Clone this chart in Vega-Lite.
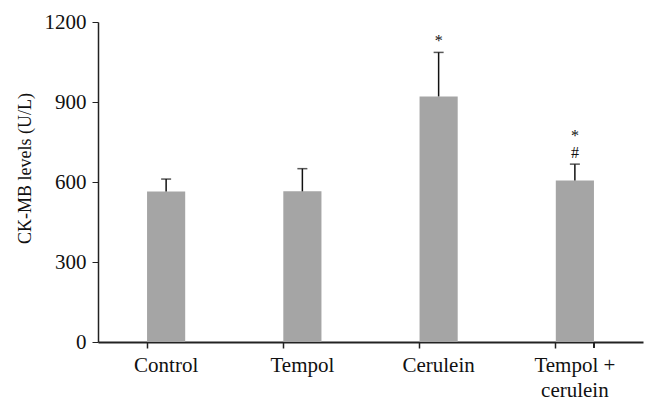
{
  "$schema": "https://vega.github.io/schema/vega-lite/v6.json",
  "autosize": "none",
  "width": 545,
  "height": 320,
  "padding": {"left": 98, "top": 22, "right": 15, "bottom": 66},
  "background": "white",
  "config": {"view": {"stroke": null}, "font": "Liberation Serif"},
  "data": {"values": [
    {"group": "Control", "mean": 564, "upper": 611, "m1": "", "m2": ""},
    {"group": "Tempol", "mean": 565, "upper": 650, "m1": "", "m2": ""},
    {"group": "Cerulein", "mean": 921, "upper": 1086, "m1": "*", "m2": ""},
    {"group": "Tempol + cerulein", "mean": 606, "upper": 667, "m1": "#", "m2": "*"}
  ]},
  "encoding": {
    "x": {"field": "group", "type": "nominal", "sort": null,
      "scale": {"paddingInner": 0.72, "paddingOuter": 0.36},
      "axis": {"title": null, "labelAngle": 0, "bandPosition": 0, "tickSize": 6, "tickWidth": 1.5, "tickColor": "#222", "domainColor": "#222", "domainWidth": 2,
        "labelFont": "Liberation Serif", "labelFontSize": 21, "labelColor": "#111", "labelPadding": 6, "labelLineHeight": 25,
        "labelExpr": "datum.value == 'Tempol + cerulein' ? ['Tempol +', 'cerulein'] : datum.label"}}
  },
  "layer": [
    {"mark": {"type": "bar", "color": "#a5a5a5"},
     "encoding": {"y": {"field": "mean", "type": "quantitative",
       "scale": {"domain": [0, 1200]},
       "axis": {"values": [0, 300, 600, 900, 1200], "format": "d", "grid": false, "tickSize": 6, "tickColor": "#222", "domainColor": "#222", "domainWidth": 1.5,
         "labelFont": "Liberation Serif", "labelFontSize": 21, "labelColor": "#111", "labelPadding": 6,
         "title": "CK-MB levels (U/L)", "titleFont": "Liberation Serif", "titleFontSize": 18, "titleFontWeight": "normal", "titleColor": "#111", "titlePadding": 10, "titleY": 146}}}},
    {"mark": {"type": "rule", "color": "#111", "strokeWidth": 1.5},
     "encoding": {"y": {"field": "mean", "type": "quantitative"}, "y2": {"field": "upper"}}},
    {"mark": {"type": "tick", "color": "#111", "thickness": 1.5, "size": 10},
     "encoding": {"y": {"field": "upper", "type": "quantitative"}}},
    {"mark": {"type": "text", "baseline": "middle", "fontSize": 16, "dy": -11, "color": "#111", "font": "Liberation Serif"},
     "encoding": {"y": {"field": "upper", "type": "quantitative"}, "text": {"field": "m1"}}},
    {"mark": {"type": "text", "baseline": "middle", "fontSize": 16, "dy": -28, "color": "#111", "font": "Liberation Serif"},
     "encoding": {"y": {"field": "upper", "type": "quantitative"}, "text": {"field": "m2"}}},
    {"mark": {"type": "rule", "color": "#222", "strokeWidth": 1.5},
     "encoding": {"x": {"datum": "Tempol + cerulein", "bandPosition": 1}, "y": {"datum": 0}, "y2": {"datum": -22}}}
  ]
}
